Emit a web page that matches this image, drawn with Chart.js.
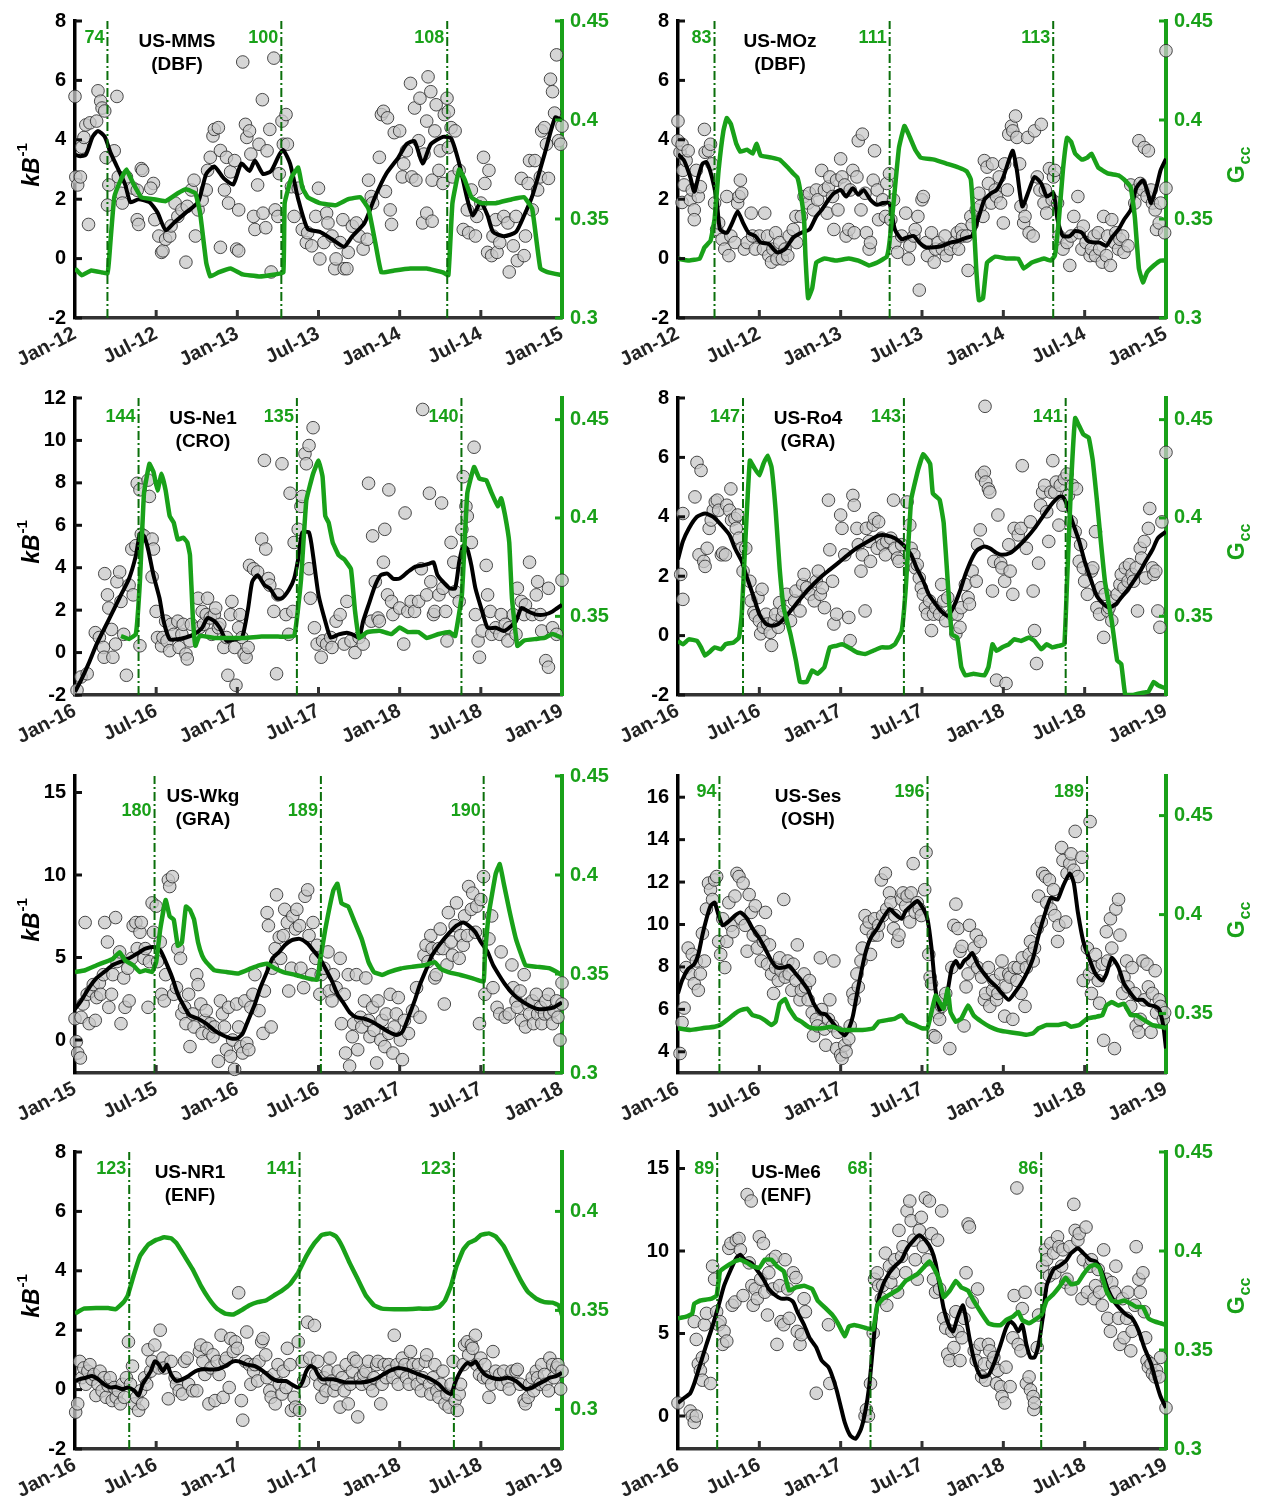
<!DOCTYPE html>
<html>
<head>
<meta charset="utf-8">
<script src="https://cdn.jsdelivr.net/npm/chart.js@4.4.1/dist/chart.umd.min.js"></script>
<style>
  html, body { margin: 0; padding: 0; background: #fff; }
  body { width: 1268px; height: 1512px; position: relative; overflow: hidden; }
  .panel { position: absolute; }
</style>
</head>
<body>
<script>
// Fonts & colours
const FONT = "'Liberation Sans', Arial, Helvetica, sans-serif";
const GREEN = "#19a119";
const VLINE = "#0b6f0b";

// Tick labels (x = months since first January)
const monthTicks = [0, 6, 12, 18, 24, 30, 36];
const ticks2012 = ["Jan-12", "Jul-12", "Jan-13", "Jul-13", "Jan-14", "Jul-14", "Jan-15"];
const ticks2015 = ["Jan-15", "Jul-15", "Jan-16", "Jul-16", "Jan-17", "Jul-17", "Jan-18"];
const ticks2016 = ["Jan-16", "Jul-16", "Jan-17", "Jul-17", "Jan-18", "Jul-18", "Jan-19"];

// ---------- US-MMS ----------
const mmsDoy = [74, 100, 108];
const mmsDots = [[0,5.46],[0.06,2.75],[0.2,2.48],[0.4,2.75],[0.5,3.75],[0.66,4.08],[0.8,4.5],[1,1.15],[1.1,4.57],[1.6,4.63],[1.7,5.65],[1.9,5.3],[2,5.07],[2.2,4.97],[2.3,3.4],[2.5,2.48],[2.4,1.8],[2.9,3.63],[3.1,5.46],[3.2,2.75],[3.4,2.2],[3.5,1.87],[3.8,2.75],[4.3,2.37],[4.6,2.3],[4.9,3.03],[5,2.97],[4.6,1.31],[4.7,1.15],[5.8,2.53],[5.6,2.37],[5.9,1.31],[6.2,0.76],[6.4,0.21],[6.5,0.26],[6.7,0.65],[7,0.76],[7.1,1.1],[7.4,1.87],[7.6,1.42],[7.9,1.64],[8.2,-0.12],[8.3,1.76],[8.6,2.31],[8.8,2.64],[8.9,0.76],[9.1,1.64],[9.4,1.97],[9.7,2.31],[9.8,2.97],[10,3.41],[10.2,4.13],[10.3,4.35],[10.6,4.41],[10.75,0.38],[10.75,3.64],[11.05,2.31],[11.2,3.41],[11.35,1.87],[11.5,2.92],[11.8,3.3],[11.95,0.32],[12.1,0.26],[12.1,1.64],[12.4,6.62],[12.6,4.52],[12.7,4.08],[12.9,4.3],[13,3.52],[13.2,1.42],[13.3,0.98],[13.5,2.48],[13.6,3.85],[13.85,5.35],[13.9,1.53],[14.1,1.04],[14.2,3.63],[14.4,4.35],[14.5,-0.45],[14.7,6.75],[14.8,1.64],[15,1.42],[15.1,2.86],[15.3,4.63],[15.4,3.85],[15.6,4.85],[15.7,3.85],[16,2.42],[16.2,1.42],[16.5,2.37],[16.8,0.98],[17.1,0.54],[17.2,0.87],[17.5,0.43],[17.8,1.42],[18,2.37],[18.1,-0.01],[18.4,0.54],[18.6,1.53],[18.7,1.2],[19,0.76],[19.2,-0.34],[19.3,-0.01],[19.6,0.54],[19.8,1.31],[19.9,-0.34],[20.1,-0.34],[20.2,0.21],[20.5,1.09],[20.8,1.2],[21,0.76],[21.3,0.32],[21.6,0.65],[21.7,2.64],[21.9,2.09],[22,1.87],[22.5,3.41],[22.65,4.85],[22.8,4.96],[23.1,4.74],[22.95,2.26],[23.3,1.64],[23.4,1.15],[23.6,4.24],[24,4.3],[24.2,2.75],[24.3,3.19],[24.5,3.63],[24.8,5.9],[24.9,2.75],[25.1,5.07],[25.2,2.64],[25.4,3.97],[25.5,5.4],[25.7,1.2],[25.8,3.52],[26,1.53],[26,4.63],[26.1,6.12],[26.3,5.62],[26.4,1.26],[26.4,2.64],[26.6,4.3],[26.7,5.18],[26.9,2.97],[27,3.63],[27.2,2.53],[27.3,4.85],[27.5,5.4],[27.6,4.96],[27.6,3.74],[27.8,4.41],[27.9,2.75],[28.1,4.3],[28.4,2.97],[28.7,0.98],[29,1.64],[29.1,0.87],[29.3,2.31],[29.6,0.76],[29.7,1.42],[30,1.87],[30.2,3.41],[30.3,2.53],[30.5,0.21],[30.6,2.97],[30.8,0.1],[30.9,0.76],[31.1,1.31],[31.2,0.21],[31.4,0.54],[31.7,1.42],[32,1.2],[32.1,-0.45],[32.4,0.43],[32.6,1.42],[32.7,-0.07],[33,2.7],[33.2,0.1],[33.3,0.76],[33.5,2.53],[33.6,3.3],[33.8,1.64],[34,3.3],[34.2,2.31],[34.4,2.75],[34.5,4.3],[34.7,4.41],[34.85,3.85],[35,2.7],[35.15,6.04],[35.3,5.62],[35.45,4.9],[35.6,6.86],[35.75,3.97],[35.9,3.85],[36,4.46]];
const mmsKb = [[0,3.5],[0.4,3.45],[0.8,3.5],[1.3,4.1],[1.7,4.3],[2.2,4.1],[2.6,3.6],[3.1,3.1],[3.7,2.5],[4.1,1.9],[4.7,2],[5.5,1.9],[6.1,1.55],[6.7,0.95],[7.3,1.2],[8.2,1.55],[9.1,1.9],[9.7,2.85],[10.3,3.1],[11,2.7],[11.7,2.5],[12.3,3.2],[12.9,2.95],[13.3,3.3],[13.9,2.85],[14.5,2.95],[15.1,3.5],[15.4,3.65],[15.9,3.2],[16.5,2],[17.2,1],[18.1,0.9],[19,0.65],[19.9,0.4],[20.5,0.75],[21.4,1.2],[22.2,2.1],[23,2.85],[23.9,3.4],[24.5,3.85],[25.1,3.95],[25.7,3.2],[26.3,3.85],[27.2,4.1],[27.8,4.05],[28.4,3.2],[29,2],[29.4,1.45],[30,1.9],[30.5,1.45],[30.9,0.9],[31.7,0.75],[32.6,0.9],[33.2,1.45],[33.8,2.1],[34.7,3.5],[35.5,4.75],[36,4.65]];
const mmsGcc = [[0,0.325],[0.5,0.3216],[1.2,0.324],[2,0.323],[2.4,0.3225],[2.5,0.328],[2.9,0.361],[3.4,0.37],[3.8,0.375],[4.3,0.368],[4.9,0.361],[5.8,0.36],[6.7,0.359],[7.6,0.363],[8.2,0.365],[8.9,0.363],[9.25,0.353],[9.7,0.328],[10,0.321],[10.6,0.323],[11.5,0.325],[12.4,0.322],[13.6,0.321],[14.8,0.322],[15.4,0.323],[15.5,0.358],[16,0.371],[16.5,0.376],[16.8,0.366],[17.2,0.361],[18.1,0.358],[19.3,0.357],[20.2,0.36],[21.1,0.361],[21.7,0.355],[22.2,0.338],[22.65,0.323],[23.6,0.324],[24.8,0.325],[26,0.325],[27.2,0.323],[27.6,0.3216],[27.9,0.358],[28.4,0.375],[28.8,0.37],[29.3,0.361],[30,0.358],[31.1,0.358],[32.3,0.36],[33.2,0.361],[33.8,0.355],[34.4,0.325],[35,0.323],[36,0.3216]];

// ---------- US-MOz ----------
const mozDoy = [83, 111, 113];
const mozDots = [[0,4.63],[0,3.97],[0.15,3.58],[0.3,3.85],[0.36,2.97],[0.45,2.48],[0.3,1.89],[0.6,3.3],[0.75,3.63],[0.9,1.98],[1.05,2.31],[1.2,1.64],[1.2,1.31],[1.35,2.97],[1.5,2.09],[1.65,2.42],[1.95,4.35],[2,3.58],[2.25,3.63],[2.4,3.85],[2.5,3.19],[2.7,1.87],[2.85,0.98],[3,1.2],[3.25,0.65],[3.45,0.32],[3.75,0.1],[3.6,2.09],[3.9,0.76],[4.2,0.54],[4.4,1.87],[4.5,2.09],[4.6,2.64],[4.7,2.2],[4.9,0.32],[5.1,0.54],[5.4,1.53],[5.5,0.76],[5.7,0.32],[6,0.76],[6.3,0.32],[6.4,1.53],[6.6,0.76],[6.7,0.1],[6.9,-0.12],[7,0.32],[7.2,0.87],[7.3,-0.01],[7.5,0.54],[7.7,-0.01],[7.9,0.32],[8.1,0.1],[8.2,0.76],[8.5,0.98],[8.7,1.42],[8.75,0.54],[9.1,1.42],[9.3,2.09],[9.6,1.87],[9.7,2.2],[10,1.64],[10.2,2.31],[10.3,1.98],[10.6,2.97],[10.8,2.31],[11,1.53],[11.1,2.42],[11.2,2.75],[11.4,2.09],[11.5,0.98],[11.7,2.64],[11.8,1.64],[12,3.36],[12.1,2.75],[12.3,2.48],[12.4,0.76],[12.6,0.98],[12.7,2.31],[12.9,2.97],[13,0.87],[13.2,2.75],[13.3,3.97],[13.5,1.64],[13.6,4.19],[13.8,2.2],[13.9,0.87],[14.1,0.32],[14.2,0.54],[14.4,2.64],[14.5,3.63],[14.7,2.31],[14.8,1.31],[15.1,1.98],[15.3,1.42],[15.4,2.53],[15.6,2.86],[15.7,1.31],[15.9,1.98],[16,0.54],[16.2,0.21],[16.5,0.76],[16.8,1.53],[17,-0.01],[17.1,0.43],[17.4,0.76],[17.5,0.98],[17.7,1.42],[17.8,-1.06],[18,1.98],[18.1,2.09],[18.3,0.54],[18.4,0.1],[18.7,0.87],[18.9,-0.12],[19,0.32],[19.2,0.54],[19.5,0.32],[19.7,0.76],[19.8,0.1],[20.1,0.32],[20.4,0.54],[20.6,0.87],[20.7,0.32],[20.9,0.98],[21,0.76],[21.3,0.76],[21.4,-0.4],[21.6,1.42],[21.7,1.15],[22,1.64],[22.2,2.2],[22.3,1.76],[22.5,1.42],[22.6,3.3],[22.8,3.08],[22.9,2.53],[23.1,1.87],[23.2,3.19],[23.4,2.31],[23.5,2.09],[23.7,2.75],[23.8,1.87],[24,1.2],[24.1,3.19],[24.3,2.31],[24.4,4.19],[24.6,4.46],[24.7,4.3],[24.9,4.8],[25,4.08],[25.2,3.19],[25.3,1.76],[25.5,1.2],[25.6,1.42],[25.8,4.08],[25.9,0.87],[26.2,0.76],[26.3,4.3],[26.5,2.75],[26.7,2.31],[26.8,4.52],[27,1.87],[27.1,2.31],[27.2,1.53],[27.4,3.03],[27.6,1.98],[27.7,2.75],[27.8,2.97],[28,1.87],[28.1,0.76],[28.4,0.32],[28.7,0.54],[28.9,-0.23],[29,0.76],[29.2,1.42],[29.5,2.09],[29.6,0.87],[29.8,0.32],[29.9,1.09],[30.1,0.54],[30.4,0.1],[30.5,0.32],[30.7,0.76],[30.8,0.1],[31,0.87],[31.1,0.32],[31.3,-0.12],[31.4,1.42],[31.6,0.1],[31.7,0.76],[31.9,-0.23],[32,1.31],[32.2,0.54],[32.3,0.87],[32.5,0.32],[32.6,0.65],[32.8,0.76],[32.9,0.21],[33.2,0.43],[33.4,2.48],[33.7,1.87],[33.8,2.31],[34,3.97],[34.1,2.53],[34.3,2.31],[34.4,3.74],[34.6,2.09],[34.7,3.63],[34.9,2.31],[35,1.87],[35.2,1.64],[35.3,0.98],[35.5,1.2],[35.6,1.87],[35.9,0.87],[36,7],[36,2.37]];
const mozKb = [[0,3.52],[0.45,3.3],[0.9,2.75],[1.2,2.25],[1.5,2.75],[1.8,3.19],[2.1,3.25],[2.5,2.75],[2.85,1.98],[3.1,0.98],[3.6,0.87],[4,1.2],[4.4,1.59],[4.8,1.2],[5.2,0.87],[5.7,0.76],[6.1,0.54],[6.7,0.49],[7.3,0.21],[7.9,0.32],[8.5,0.71],[9.1,0.87],[9.7,0.98],[10.2,1.42],[10.6,1.64],[11.1,1.98],[11.5,2.2],[12,2.31],[12.4,2.09],[12.9,2.37],[13.3,2.15],[13.7,2.31],[14.2,1.98],[14.7,1.81],[15.1,1.87],[15.6,1.87],[16,0.98],[16.5,0.65],[16.9,0.71],[17.4,0.76],[17.8,0.54],[18.3,0.38],[18.9,0.38],[19.5,0.43],[20.1,0.54],[20.7,0.6],[21.3,0.71],[21.7,0.76],[22.2,1.42],[22.6,1.98],[23.1,2.2],[23.5,2.31],[24,2.75],[24.4,3.3],[24.7,3.63],[25,2.97],[25.4,1.76],[25.9,2.31],[26.3,2.75],[26.8,2.53],[27.2,2.09],[27.7,2.2],[28,1.31],[28.4,0.76],[28.9,0.76],[29.3,0.93],[29.8,0.87],[30.2,0.6],[30.7,0.54],[31.1,0.54],[31.6,0.43],[32,0.71],[32.5,0.98],[32.9,1.31],[33.4,1.64],[33.8,2.37],[34.3,2.64],[34.6,2.31],[34.9,1.87],[35.3,2.42],[35.6,2.97],[36,3.36]];
const mozGcc = [[0,0.33],[0.8,0.329],[1.6,0.33],[1.95,0.3356],[2.4,0.339],[2.7,0.35],[3,0.375],[3.35,0.3945],[3.6,0.401],[3.9,0.398],[4.3,0.388],[4.6,0.384],[5.1,0.385],[5.5,0.383],[5.8,0.388],[6.1,0.382],[6.9,0.381],[7.5,0.38],[8.1,0.376],[8.5,0.373],[8.8,0.371],[9,0.365],[9.3,0.35],[9.4,0.3315],[9.6,0.31],[9.9,0.315],[10.2,0.328],[10.8,0.33],[11.7,0.329],[12.6,0.33],[13.3,0.329],[14.1,0.3265],[14.7,0.328],[15.4,0.331],[15.6,0.338],[15.9,0.358],[16.3,0.386],[16.7,0.397],[17,0.393],[17.5,0.385],[17.9,0.381],[18.9,0.38],[19.8,0.378],[20.7,0.376],[21.3,0.374],[21.6,0.37],[21.8,0.351],[22,0.325],[22.2,0.309],[22.5,0.31],[22.8,0.328],[23.4,0.331],[24.3,0.33],[25.1,0.33],[25.5,0.325],[26.1,0.328],[27,0.33],[27.5,0.329],[27.8,0.3315],[28.1,0.35],[28.4,0.375],[28.7,0.391],[29,0.389],[29.3,0.383],[29.8,0.38],[30.2,0.381],[30.5,0.383],[31,0.376],[31.7,0.373],[32.5,0.372],[32.9,0.37],[33.4,0.366],[33.7,0.351],[34,0.325],[34.3,0.318],[34.6,0.323],[35.1,0.3265],[35.6,0.329],[36,0.329]];

// ---------- US-Ne1 ----------
const ne1Doy = [144, 135, 140];
const ne1Dots = [[0.15,-1.77],[0.45,-1.15],[0.9,-1],[1.5,0.94],[1.8,0.71],[2.1,0.24],[2.15,-0.22],[2.2,3.72],[2.4,2.72],[2.5,2.1],[2.7,1.09],[2.8,-0.22],[3,0.4],[3.1,3.34],[3.3,3.8],[3.4,2.41],[3.6,0.86],[3.8,-1.07],[4,3.18],[4.2,4.88],[4.3,2.72],[4.5,5.04],[4.6,7.98],[4.8,7.67],[4.9,5.58],[4.8,0.32],[5.1,5.5],[5.4,8.13],[5.5,7.36],[5.7,5.35],[5.8,4.88],[5.7,3.57],[6,1.94],[6.1,0.71],[6.4,0.32],[6.5,0.71],[6.7,1.48],[6.8,0.55],[7,0.09],[7.1,1.33],[7.3,0.86],[7.6,1.48],[7.7,0.24],[7.9,0.86],[8,1.33],[8.2,-0.07],[8.3,-0.3],[8.5,0.55],[8.6,1.33],[9.1,2.56],[9.2,1.17],[9.4,1.94],[9.5,1.33],[9.7,1.79],[9.8,2.56],[10,1.63],[10.1,0.86],[10.3,1.79],[10.4,2.1],[10.6,1.17],[10.7,1.33],[11,0.24],[11.2,0.71],[11.3,-1.07],[11.5,1.79],[11.6,2.41],[11.8,0.24],[11.9,-1.54],[12.1,1.17],[12.2,1.79],[12.35,0.71],[12.5,-0.07],[12.65,-0.22],[12.8,0.24],[12.9,4.11],[13.2,3.95],[13.5,3.8],[13.8,5.35],[14.1,4.88],[14,9.06],[14.3,3.49],[14.4,3.18],[14.7,1.94],[14.9,-1],[15,2.72],[15.3,8.9],[15.6,1.79],[15.8,0.86],[15.9,7.51],[16.1,1.94],[16.2,5.19],[16.5,5.81],[16.7,6.89],[16.8,7.36],[17,9.37],[17.1,8.9],[17.3,9.76],[17.6,10.6],[17.3,3.95],[17.4,2.56],[17.7,1.17],[17.9,0.4],[18.2,-0.22],[18.3,0.55],[18.6,0.4],[18.9,0.71],[19,0.24],[19.3,1.48],[19.6,1.79],[19.9,0.4],[20.1,2.41],[20.4,0.55],[20.7,0],[21,0.71],[21.3,0.4],[21.7,7.98],[21.9,1.48],[22,5.5],[22.2,3.34],[22.4,1.63],[22.5,1.48],[22.8,4.26],[22.9,5.81],[23.1,2.72],[23.2,7.67],[23.4,2.41],[23.5,1.79],[24,2.1],[24.3,0.4],[24.4,6.58],[24.6,1.94],[24.85,2.41],[25.1,1.94],[25.4,2.41],[25.6,3.95],[25.7,11.46],[26,2.72],[26.2,7.51],[26.3,3.34],[26.5,1.79],[26.6,1.94],[26.9,2.72],[27.1,7.05],[27.2,3.03],[27.4,1.94],[27.5,0.55],[27.8,5.19],[28,4.26],[28.1,2.87],[28.4,2.41],[28.6,5.81],[28.7,8.29],[28.9,6.89],[29,6.43],[29.3,5.19],[29.5,9.68],[29.6,1.79],[29.8,0.55],[29.9,-0.22],[30.1,1.02],[30.4,4.11],[30.5,2.72],[30.7,1.94],[30.8,0.86],[31.1,1.17],[31.4,0.86],[31.5,1.79],[31.8,1.33],[32,0.55],[32.1,1.17],[32.4,1.79],[32.6,0.86],[32.7,3.03],[33,2.41],[33.2,1.79],[33.3,2.25],[33.6,4.26],[33.8,1.79],[34.1,2.72],[34.2,3.34],[34.4,1.79],[34.5,1.02],[34.8,-0.38],[35,-0.69],[35,3.03],[35.3,1.17],[35.6,0.86],[36,3.41]];
const ne1Kb = [[0,-1.85],[0.45,-1.3],[1,-0.53],[1.6,0.4],[2.2,1.17],[2.8,1.94],[3.4,2.72],[4,3.49],[4.5,4.57],[4.8,5.58],[5.1,5.5],[5.4,4.88],[5.8,3.65],[6.25,2.56],[6.55,1.48],[7,0.63],[7.6,0.63],[8.2,0.71],[8.8,0.86],[9.4,1.17],[9.8,1.63],[10.3,1.48],[10.7,1.17],[11.2,0.55],[11.8,0.63],[12.35,0.71],[12.8,2.1],[13.1,3.34],[13.5,3.65],[14,3.18],[14.4,3.03],[14.9,2.56],[15.3,2.56],[15.8,2.95],[16.2,3.49],[16.5,4.42],[16.8,5.66],[17.3,5.66],[17.6,4.57],[18,2.72],[18.5,1.48],[18.9,0.71],[19.5,0.86],[20.1,0.94],[20.5,0.86],[21,0.71],[21.3,1.48],[21.7,2.25],[22.2,3.18],[22.6,3.65],[23.1,3.72],[23.5,3.49],[24,3.49],[24.6,3.8],[25.1,4.03],[25.7,4.11],[26.2,4.19],[26.5,4.26],[26.8,3.65],[27.2,3.34],[27.7,3.03],[28.1,3.03],[28.4,4.26],[28.7,5.04],[29,4.88],[29.3,4.11],[29.6,3.03],[30.1,1.94],[30.5,1.17],[31.1,1.17],[31.7,1.02],[32.1,1.17],[32.6,1.48],[33,2.1],[33.5,1.94],[34.1,1.79],[34.7,1.79],[35.3,1.94],[36,2.25]];
const ne1Gcc = [[3.4,0.34],[4,0.3385],[4.5,0.341],[4.8,0.368],[5.1,0.4126],[5.5,0.4275],[5.8,0.4234],[6.1,0.414],[6.4,0.4225],[6.7,0.414],[7,0.401],[7.3,0.3976],[7.6,0.389],[8,0.39],[8.3,0.3876],[8.5,0.381],[8.7,0.351],[8.9,0.335],[9.2,0.34],[10.3,0.339],[11.5,0.339],[12.6,0.339],[13.8,0.3397],[15,0.3397],[16.2,0.34],[16.7,0.368],[17.1,0.409],[17.6,0.4225],[18,0.4292],[18.3,0.421],[18.5,0.401],[18.75,0.3976],[19.05,0.3876],[19.5,0.381],[19.9,0.379],[20.4,0.374],[20.7,0.3527],[21,0.339],[21.6,0.342],[22.5,0.3427],[23.4,0.341],[24,0.3443],[24.6,0.342],[25.4,0.342],[26,0.339],[26.9,0.341],[27.7,0.342],[28.1,0.34],[28.6,0.361],[29,0.4126],[29.5,0.4259],[29.9,0.42],[30.4,0.4192],[30.8,0.4126],[31.25,0.406],[31.5,0.41],[31.8,0.401],[32.1,0.3876],[32.3,0.3593],[32.7,0.335],[33.2,0.3377],[34.1,0.3385],[34.7,0.339],[35.3,0.341],[36,0.339]];

// ---------- US-Ro4 ----------
const ro4Doy = [147, 143, 141];
const ro4Dots = [[0.2,2.06],[0.36,1.22],[0.36,4.11],[1.25,4.67],[1.4,5.83],[1.7,5.56],[1.55,2.72],[1.9,2.5],[2,2.33],[2.15,2.94],[2.3,3.61],[2.45,3.89],[2.6,4.22],[2.75,4.5],[2.9,4.56],[3,4.22],[3.2,2.72],[3.3,2.78],[3.5,2.72],[3.6,4.39],[3.8,4.22],[3.9,4.94],[3.95,3.89],[4.2,3.94],[4.3,3.61],[4.4,4.06],[4.5,3.28],[4.7,2.94],[4.8,2.17],[5,2.94],[5.3,1.83],[5.4,1.17],[5.6,0.78],[5.7,0.67],[5.9,1.28],[6,0.5],[6.1,0.06],[6.2,1.56],[6.3,0.28],[6.5,0.72],[6.6,0.39],[6.8,0.11],[6.9,-0.33],[7.1,0.5],[7.2,0.72],[7.4,0.28],[7.5,1.11],[7.7,0.61],[7.8,0.83],[8,1.39],[8.3,0.5],[8.6,1.17],[8.7,1.5],[9,0.83],[9.2,1.72],[9.3,2.06],[9.5,1.61],[9.75,1.39],[10.05,1.17],[10.2,1.83],[10.35,2.17],[10.5,1.39],[10.65,1.61],[10.8,0.94],[11.1,4.56],[11.2,2.89],[11.4,1.83],[11.5,0.39],[11.7,0.72],[12,4.06],[12.1,3.61],[12.3,2.72],[12.6,0.61],[12.7,-0.17],[12.9,4.72],[13,4.39],[13.2,3.61],[13.3,3.06],[13.5,2.17],[13.6,2.72],[13.8,0.83],[13.9,3.61],[14.1,3.17],[14.2,2.5],[14.4,3.72],[14.5,3.94],[14.7,2.94],[14.8,3.83],[15,3.28],[15.1,3.06],[15.3,2.72],[15.4,3.17],[15.7,3.28],[15.9,4.56],[16,2.94],[16.2,2.61],[16.3,2.5],[16.5,3.06],[16.9,4.5],[17.1,3.72],[17.2,2.94],[17.4,2.72],[17.5,2.28],[17.65,2.39],[17.8,1.94],[17.95,1.61],[18.1,1.39],[18.25,0.94],[18.4,0.72],[18.55,1.17],[18.7,0.17],[18.85,0.72],[19,0.94],[19.3,0.72],[19.45,1.72],[19.6,1.17],[19.75,0.5],[19.9,1.28],[20.2,0.72],[20.5,0.06],[20.6,0.72],[20.8,0.28],[20.9,0.94],[21.2,1.72],[21.4,1.28],[21.5,1.06],[21.7,2.17],[22,1.83],[22.1,3.06],[22.3,3.56],[22.4,5.39],[22.6,5.5],[22.65,7.72],[22.7,5.17],[22.9,4.94],[23,4.83],[23.2,1.5],[23.3,2.5],[23.5,-1.5],[23.6,4.06],[23.8,2.44],[23.9,2.28],[24.1,1.83],[24.2,-1.61],[24.4,3.06],[24.5,2.17],[24.7,1.39],[24.8,3.61],[25.1,3.39],[25.3,3.61],[25.4,5.72],[25.7,2.94],[26,3.83],[26.2,1.5],[26.3,0.17],[26.45,-0.94],[26.6,2.44],[26.75,4.39],[26.9,4.83],[27.05,5.06],[27.2,4.17],[27.35,3.17],[27.5,4.83],[27.65,5.89],[27.8,4.83],[27.9,5.17],[28.1,3.72],[28.2,5.06],[28.4,4.39],[28.5,5.28],[28.7,5.44],[28.8,4.72],[29,3.83],[29.1,5.06],[29.3,3.5],[29.4,4.94],[29.6,2.5],[29.7,3.06],[29.9,2.28],[30,1.83],[30.2,1.39],[30.5,2.17],[30.6,2.28],[30.8,3.5],[30.9,0.94],[31.1,0.72],[31.2,1.61],[31.4,-0.06],[31.5,1.39],[31.7,0.83],[31.8,0.94],[32,0.5],[32.1,1.17],[32.4,1.39],[32.6,1.72],[32.7,2.06],[32.9,1.61],[33,2.28],[33.2,1.83],[33.3,2.39],[33.5,2.06],[33.6,1.83],[33.8,2.28],[33.9,0.83],[34.1,2.94],[34.2,2.61],[34.4,3.17],[34.5,1.94],[34.7,3.61],[34.8,4.28],[35,2.28],[35.1,2.06],[35.25,2.17],[35.4,0.83],[35.55,0.28],[35.7,3.83],[36,6.17]];
const ro4Kb = [[0,2.56],[0.36,3.17],[0.8,3.61],[1.4,4],[2,4.11],[2.6,4],[3.2,3.72],[3.8,3.39],[4.2,2.94],[4.7,2.5],[5.1,1.94],[5.6,1.28],[6,0.72],[6.5,0.39],[6.9,0.33],[7.4,0.39],[7.8,0.56],[8.3,0.83],[8.9,1.17],[9.5,1.5],[10.1,1.78],[10.6,2],[11.2,2.22],[11.8,2.44],[12.4,2.67],[13,2.89],[13.6,3.06],[14.2,3.22],[14.8,3.37],[15.4,3.37],[16,3.28],[16.6,3.06],[17.2,2.72],[17.6,2.28],[18.1,1.83],[18.5,1.39],[19,1.06],[19.4,0.83],[19.9,0.67],[20.3,0.94],[20.8,1.5],[21.2,2.06],[21.7,2.61],[22.1,2.89],[22.6,3],[23,2.94],[23.5,2.78],[23.9,2.72],[24.5,2.78],[25.1,3],[25.7,3.28],[26.3,3.61],[26.9,4],[27.5,4.39],[28.1,4.67],[28.4,4.67],[28.7,4.39],[29.1,3.83],[29.6,3.17],[30,2.5],[30.5,1.83],[30.9,1.33],[31.4,1.06],[31.8,0.94],[32.3,1.06],[32.7,1.28],[33.2,1.56],[33.6,1.83],[34.1,2.17],[34.5,2.5],[35,2.89],[35.4,3.28],[36,3.5]];
const ro4Gcc = [[0,0.3375],[0.36,0.3358],[0.8,0.3383],[1.4,0.3375],[1.7,0.3342],[2,0.33],[2.3,0.3317],[2.7,0.3342],[3.2,0.3333],[3.5,0.3358],[4.1,0.3367],[4.5,0.3392],[4.7,0.3508],[5,0.3925],[5.3,0.4292],[5.6,0.4258],[6,0.4217],[6.3,0.4275],[6.6,0.4317],[6.9,0.4258],[7.2,0.4042],[7.5,0.3742],[7.8,0.3542],[8.3,0.3408],[8.7,0.3275],[9,0.3167],[9.5,0.3167],[9.9,0.3225],[10.3,0.3208],[10.8,0.3242],[11.2,0.3342],[11.7,0.335],[12.1,0.3358],[12.6,0.3342],[13.2,0.3317],[13.8,0.3308],[14.4,0.3325],[15,0.3342],[15.6,0.3342],[16,0.3358],[16.5,0.3425],[16.8,0.3642],[17.2,0.4092],[17.7,0.4242],[18.1,0.4325],[18.6,0.4275],[18.8,0.4125],[19.3,0.4092],[19.6,0.3975],[19.9,0.3675],[20.2,0.3408],[20.6,0.3392],[20.9,0.3242],[21.2,0.32],[21.8,0.3208],[22.6,0.32],[22.9,0.3242],[23.2,0.3358],[23.5,0.3325],[23.9,0.3342],[24.4,0.3358],[24.8,0.3383],[25.3,0.3375],[25.9,0.3392],[26.3,0.3375],[26.8,0.3333],[27.2,0.3358],[27.6,0.3342],[28.1,0.335],[28.5,0.3358],[28.7,0.3675],[29,0.4175],[29.3,0.4508],[29.6,0.4467],[29.9,0.4425],[30.3,0.4408],[30.6,0.4292],[30.9,0.4092],[31.2,0.3875],[31.5,0.3675],[32,0.3475],[32.4,0.3275],[32.7,0.3258],[33,0.31],[33.6,0.31],[34.2,0.311],[34.7,0.3117],[35.1,0.3167],[35.4,0.315],[36,0.3133]];

// ---------- US-Wkg ----------
const wkgDoy = [180, 189, 190];
const wkgDots = [[0,1.29],[0.1,-0.1],[0.2,-0.79],[0.4,-1.09],[0.45,1.38],[0.6,2.18],[0.75,7.12],[0.9,2.77],[1.05,0.99],[1.2,2.97],[1.35,3.36],[1.5,1.19],[1.6,2.57],[1.8,3.46],[1.9,2.77],[2.1,3.96],[2.2,7.12],[2.4,5.94],[2.5,1.98],[2.7,2.77],[2.8,3.96],[3,7.42],[3.1,4.75],[3.3,5.34],[3.4,0.99],[3.6,3.76],[3.7,1.98],[3.9,4.35],[4,2.37],[4.2,4.95],[4.3,6.93],[4.5,7.12],[4.6,5.54],[4.8,6.53],[4.9,7.12],[5.1,4.95],[5.2,5.54],[5.4,1.98],[5.5,4.75],[5.7,8.31],[5.8,6.53],[6,8.11],[6.1,4.75],[6.3,5.94],[6.4,2.77],[6.6,2.37],[6.7,3.96],[6.9,9.7],[7,9.3],[7.2,9.9],[7.3,2.77],[7.5,3.17],[7.6,5.54],[7.8,4.95],[7.9,1.58],[8.1,1.98],[8.2,0.99],[8.4,2.77],[8.5,-0.4],[8.7,1.58],[8.8,0.79],[9,3.96],[9.1,3.36],[9.3,2.18],[9.4,0.4],[9.6,1.19],[9.7,1.78],[9.9,0.4],[10,0.99],[10.2,0.2],[10.3,0.79],[10.6,-1.29],[10.75,2.37],[10.9,1.58],[11.05,0.79],[11.2,-0.59],[11.35,1.98],[11.5,-0.99],[11.65,0],[11.8,-1.78],[11.95,2.18],[12.1,0.79],[12.25,-0.4],[12.4,-0.79],[12.55,2.37],[12.7,-0.2],[12.85,-0.59],[13,1.98],[13.15,2.77],[13.3,3.96],[13.6,1.78],[13.9,0.4],[14,2.97],[14.2,7.72],[14.3,6.93],[14.5,0.79],[14.6,4.35],[14.8,5.54],[14.9,8.8],[15.1,6.23],[15.2,4.95],[15.4,6.33],[15.5,7.92],[15.7,7.12],[15.8,2.97],[16,4.35],[16.1,7.52],[16.3,6.73],[16.4,7.92],[16.6,6.93],[16.7,4.35],[16.9,3.17],[17,8.71],[17.2,9.1],[17.3,6.33],[17.5,3.96],[17.6,7.12],[17.8,4.95],[17.9,5.74],[18.1,2.77],[18.2,3.96],[18.4,4.35],[18.7,5.34],[18.8,2.97],[19,2.37],[19.1,3.96],[19.3,3.17],[19.6,4.95],[19.7,0.99],[19.9,2.77],[20,-0.79],[20.2,3.96],[20.3,-1.58],[20.5,0.2],[20.6,0.99],[20.8,3.96],[20.9,-0.59],[21.1,1.38],[21.2,0.79],[21.4,2.37],[21.5,3.76],[21.7,1.19],[21.8,0.2],[22,1.98],[22.1,0.59],[22.3,-1.39],[22.4,2.37],[22.6,0],[22.7,1.19],[22.9,-0.4],[23,1.58],[23.2,0.4],[23.3,2.77],[23.5,-0.79],[23.6,0.79],[23.75,1.58],[23.9,2.57],[24.05,0],[24.2,-1.19],[24.35,1.19],[24.65,0.4],[24.95,1.78],[25.25,3.17],[25.5,1.38],[25.8,5.14],[25.95,5.74],[26.1,4.75],[26.3,6.33],[26.4,5.54],[26.6,3.76],[26.7,3.96],[26.9,5.54],[27,6.73],[27.2,5.54],[27.3,2.18],[27.5,4.55],[27.6,7.72],[27.8,5.94],[27.9,5.14],[28.1,6.93],[28.2,8.31],[28.4,4.95],[28.5,6.33],[28.7,5.74],[28.8,7.52],[29,6.33],[29.1,9.3],[29.3,7.92],[29.4,8.9],[29.6,6.53],[29.7,8.11],[29.9,0.99],[30,8.51],[30.2,9.9],[30.3,2.77],[30.6,6.13],[30.8,7.52],[30.9,3.17],[31.2,1.98],[31.4,1.58],[31.5,5.34],[31.8,1.38],[32.1,1.58],[32.3,4.55],[32.4,3.17],[32.6,2.37],[32.7,1.98],[32.9,2.97],[33,1.19],[33.2,3.96],[33.3,0.79],[33.5,2.18],[33.6,1.58],[33.8,2.37],[33.9,0.99],[34.1,2.77],[34.2,1.58],[34.4,1.98],[34.5,0.99],[34.7,1.58],[34.8,2.37],[35,2.77],[35.1,1.58],[35.3,0.99],[35.4,1.78],[35.6,2.37],[35.7,1.38],[35.85,0],[36,2.18],[36,3.46]];
const wkgKb = [[0,1.88],[0.45,2.37],[1.05,3.17],[1.6,3.76],[2.2,4.15],[2.8,4.55],[3.4,4.75],[4,4.95],[4.6,5.24],[5.2,5.54],[5.8,5.64],[6.3,5.44],[6.7,4.75],[7.2,3.76],[7.6,2.77],[8.1,1.98],[8.5,1.48],[9.1,1.29],[9.7,0.99],[10.3,0.59],[10.9,0.3],[11.5,0.1],[12,0.1],[12.4,0.4],[12.8,1.19],[13.3,2.18],[13.7,3.17],[14.2,4.15],[14.6,4.95],[15.1,5.34],[15.5,5.74],[16,6.04],[16.6,6.13],[17.2,5.84],[17.6,5.44],[18.1,4.95],[18.5,4.35],[19,3.56],[19.4,2.77],[19.9,2.18],[20.3,1.68],[20.8,1.38],[21.4,1.29],[22,1.09],[22.6,0.79],[23.2,0.49],[23.75,0.3],[24.2,0.49],[24.65,1.38],[25.1,2.37],[25.5,3.36],[26,4.35],[26.4,5.14],[27,5.84],[27.6,6.43],[28.2,6.93],[28.7,7.12],[29.1,6.93],[29.6,6.53],[30,5.94],[30.5,5.34],[30.9,4.55],[31.4,3.86],[31.8,3.36],[32.4,2.77],[33,2.37],[33.6,2.08],[34.2,1.88],[34.8,1.88],[35.4,1.98],[36,2.28]];
const wkgGcc = [[0,0.351],[0.75,0.3519],[1.6,0.3544],[2.2,0.356],[2.8,0.3577],[3.3,0.361],[3.7,0.3569],[4.3,0.3544],[4.8,0.351],[5.2,0.3519],[5.7,0.351],[6,0.356],[6.3,0.3725],[6.7,0.3874],[7,0.3791],[7.3,0.3775],[7.6,0.3643],[7.9,0.3659],[8.2,0.3841],[8.5,0.3824],[8.8,0.3775],[9.1,0.3659],[9.4,0.3593],[9.7,0.356],[10.3,0.3519],[11.2,0.351],[12.1,0.3503],[13,0.3528],[13.6,0.3544],[14.2,0.3552],[14.8,0.3528],[15.4,0.351],[16.3,0.3495],[17.2,0.3478],[17.9,0.347],[18.1,0.356],[18.5,0.3725],[19.1,0.3923],[19.4,0.3956],[19.7,0.3857],[20.2,0.3841],[20.6,0.3775],[21.2,0.3676],[21.7,0.356],[22.1,0.351],[22.7,0.3495],[23.2,0.351],[24.1,0.3528],[24.9,0.3536],[25.8,0.3544],[26.6,0.356],[27,0.3528],[27.6,0.351],[28.5,0.3495],[29.4,0.3478],[30.2,0.3462],[30.3,0.3593],[30.6,0.3808],[31.1,0.4006],[31.4,0.4055],[31.7,0.3956],[32.1,0.3824],[32.6,0.3676],[33.1,0.3577],[33.3,0.3544],[34.2,0.3536],[35.1,0.3528],[36,0.3495]];

// ---------- US-Ses ----------
const sesDoy = [94, 196, 189];
const sesDots = [[0.15,3.92],[0.3,5.38],[0.45,6.06],[0.6,7.97],[0.75,8.89],[0.9,7.67],[1.05,8.59],[1.2,7.21],[1.35,8.28],[1.5,6.9],[1.65,7.67],[1.8,9.58],[1.95,8.28],[2.1,10.73],[2.25,11.95],[2.4,11.64],[2.55,11.18],[2.7,12.1],[2.85,12.26],[3,9.2],[3.15,8.59],[3.3,10.27],[3.45,7.97],[3.6,9.2],[3.75,11.03],[3.9,9.96],[4.05,9.66],[4.2,11.34],[4.35,12.41],[4.5,12.26],[4.65,10.27],[4.8,11.95],[4.95,9.96],[5.1,8.74],[5.25,11.41],[5.4,10.57],[5.55,9.5],[5.7,10.88],[5.85,8.89],[6,9.66],[6.15,8.28],[6.3,9.2],[6.45,10.57],[6.6,8.13],[6.75,9.04],[6.9,7.67],[7.05,6.75],[7.2,7.97],[7.4,7.36],[7.5,8.43],[7.6,7.82],[7.8,11.18],[7.9,7.52],[8.1,8.28],[8.2,7.67],[8.4,6.9],[8.5,8.13],[8.7,7.36],[8.8,9.04],[9,6.45],[9.1,6.9],[9.3,7.67],[9.4,7.06],[9.6,6.45],[9.7,7.36],[9.9,5.84],[10,4.76],[10.2,5.53],[10.3,5.22],[10.5,8.43],[10.6,5.99],[10.8,5.07],[10.9,4.31],[11.1,5.53],[11.2,6.45],[11.4,5.22],[11.5,8.28],[11.7,4.15],[11.8,4.92],[12,3.85],[12.1,3.69],[12.3,4.31],[12.4,4],[12.6,4.61],[12.7,5.22],[12.9,6.75],[13,6.45],[13.2,7.67],[13.3,7.06],[13.5,8.28],[13.6,8.89],[13.8,10.42],[13.9,9.81],[14.1,10.12],[14.2,8.59],[14.4,9.5],[14.5,10.27],[14.7,9.5],[14.8,9.96],[15,12.1],[15.1,10.42],[15.3,12.41],[15.4,10.73],[15.6,11.49],[15.7,11.03],[15.9,9.81],[16,10.42],[16.2,9.2],[16.3,9.5],[16.5,11.18],[16.6,11.49],[16.8,10.88],[16.9,11.34],[17.1,10.12],[17.2,11.49],[17.35,12.87],[17.5,10.57],[17.65,11.03],[17.8,10.73],[17.95,10.42],[18.2,11.64],[18.3,13.4],[18.5,8.59],[18.6,7.52],[18.7,7.21],[18.85,4.76],[19,4.69],[19.15,5.84],[19.3,5.53],[19.45,6.14],[19.6,6.45],[19.75,6.75],[20.05,4.15],[20.2,7.97],[20.35,9.96],[20.5,10.96],[20.65,9.81],[20.8,8.74],[20.95,8.97],[21.1,5.22],[21.25,7.06],[21.4,7.67],[21.5,9.96],[21.7,8.28],[21.85,8.89],[22,9.5],[22.1,7.97],[22.3,9.2],[22.4,7.52],[22.6,6.45],[22.7,6.75],[22.9,7.97],[23,6.14],[23.2,6.9],[23.3,7.36],[23.5,6.45],[23.6,6.75],[23.8,7.67],[23.9,8.28],[24.1,5.68],[24.2,7.06],[24.4,7.67],[24.5,7.52],[24.7,5.53],[24.8,7.97],[25,7.36],[25.1,7.97],[25.3,6.75],[25.4,8.43],[25.6,6.14],[25.7,7.97],[25.9,8.59],[26,9.2],[26.2,8.28],[26.3,8.89],[26.5,9.81],[26.6,11.34],[26.8,10.12],[26.9,12.41],[27.1,12.26],[27.2,11.03],[27.4,12.1],[27.5,10.73],[27.7,11.64],[27.8,10.42],[28,9.2],[28.1,9.96],[28.3,13.63],[28.4,13.02],[28.6,10.12],[28.7,12.41],[28.9,12.87],[29,13.33],[29.2,12.56],[29.3,14.39],[29.5,12.26],[29.8,13.17],[30.4,14.85],[29.9,7.36],[30.2,8.89],[30.35,7.67],[30.5,6.75],[30.7,7.97],[30.8,8.59],[31,7.36],[31.1,6.29],[31.3,8.13],[31.4,4.54],[31.6,9.66],[31.7,8.28],[31.9,10.27],[32,8.89],[32.2,4.15],[32.3,10.73],[32.5,11.18],[32.6,9.5],[32.8,6.75],[32.9,7.52],[33.1,8.28],[33.2,7.06],[33.4,6.14],[33.5,7.97],[33.7,6.75],[33.8,5.22],[34,4.92],[34.1,5.53],[34.3,8.28],[34.4,6.45],[34.6,8.13],[34.7,7.06],[34.9,4.92],[35,6.75],[35.2,7.82],[35.3,5.84],[35.5,6.45],[35.6,6.14],[35.8,5.53],[35.9,5.84]];
const sesKb = [[0,6.75],[0.3,7.36],[0.75,7.9],[1.2,8.13],[1.5,8.59],[1.8,9.5],[2.1,10.27],[2.4,10.88],[2.7,11.03],[3,10.42],[3.3,9.96],[3.7,10.12],[4.2,10.42],[4.6,10.57],[5.1,10.27],[5.5,9.81],[6,9.35],[6.4,8.89],[6.9,8.28],[7.3,7.97],[7.8,7.97],[8.2,8.05],[8.7,7.67],[9.1,7.36],[9.6,6.9],[10,6.29],[10.5,5.83],[10.9,5.76],[11.4,5.38],[11.8,5.07],[12.3,4.77],[12.6,5.07],[12.9,5.68],[13.3,7.06],[13.8,8.59],[14.2,9.35],[14.7,9.81],[15.1,10.27],[15.6,10.73],[16,10.5],[16.5,10.27],[16.8,10.65],[17.2,10.88],[17.65,11.11],[18.1,10.73],[18.4,10.27],[18.7,8.89],[19,6.9],[19.3,5.99],[19.6,6.14],[19.9,6.9],[20.2,7.97],[20.5,8.28],[20.8,7.97],[21.1,8.28],[21.4,8.43],[21.7,8.66],[22.1,8.13],[22.6,7.67],[23,7.36],[23.5,7.06],[23.9,6.75],[24.4,6.45],[24.8,6.75],[25.3,7.21],[25.7,7.67],[26.2,8.43],[26.6,9.5],[27.1,10.57],[27.5,11.26],[28,11.18],[28.4,11.8],[28.9,12.41],[29.2,11.95],[29.5,10.57],[29.9,9.2],[30.4,8.28],[30.8,7.67],[31.3,7.36],[31.6,7.67],[32,8.43],[32.5,7.97],[32.9,7.21],[33.4,6.75],[33.8,6.45],[34.3,6.45],[34.7,6.22],[35.2,6.14],[35.5,5.99],[35.8,5.22],[36,4.15]];
const sesGcc = [[0,0.3426],[0.9,0.3417],[1.8,0.3426],[2.7,0.3434],[3.1,0.3442],[3.6,0.3467],[4.2,0.35],[4.6,0.3517],[5.1,0.3525],[5.5,0.3492],[6,0.3483],[6.4,0.3467],[6.9,0.3442],[7.2,0.3459],[7.5,0.355],[7.9,0.3574],[8.2,0.3525],[8.7,0.3475],[9.1,0.3459],[9.6,0.3434],[10,0.3426],[10.6,0.3426],[11.4,0.3434],[12.1,0.3417],[12.9,0.3417],[13.6,0.3417],[14.4,0.3426],[14.8,0.3459],[15.4,0.3467],[16,0.3475],[16.5,0.3492],[16.9,0.3459],[17.5,0.3442],[18,0.3426],[18.4,0.3426],[18.7,0.3508],[19,0.3591],[19.3,0.3558],[19.6,0.3525],[19.9,0.3624],[20.1,0.3508],[20.5,0.3459],[20.9,0.3475],[21.4,0.3541],[21.8,0.3492],[22.4,0.3459],[23,0.3434],[23.6,0.3417],[24.2,0.3409],[25,0.3401],[25.7,0.3393],[26.2,0.3401],[26.6,0.3426],[27.2,0.3442],[28,0.3442],[28.6,0.345],[29,0.3434],[29.6,0.3442],[30.2,0.3475],[30.8,0.3483],[31.3,0.3492],[31.6,0.3541],[32,0.3558],[32.5,0.3541],[32.9,0.355],[33.4,0.3492],[33.8,0.3492],[34.4,0.3467],[35,0.3442],[35.6,0.3434],[36,0.3426]];

// ---------- US-NR1 ----------
const nr1Doy = [123, 141, 123];
const nr1Dots = [[0.05,-0.76],[0.2,-0.48],[0.35,0.95],[0.5,0.4],[0.65,0.73],[0.8,0.18],[0.95,0.62],[1.1,0.84],[1.25,0.35],[1.4,0.51],[1.55,-0.2],[1.7,0.18],[1.85,0.62],[2,-0.04],[2.15,0.4],[2.3,-0.26],[2.45,0.13],[2.6,0.4],[2.75,-0.37],[2.9,0.07],[3.05,-0.26],[3.2,-0.04],[3.35,-0.48],[3.5,0.18],[3.65,-0.26],[3.8,0.4],[3.95,1.61],[4.1,0.18],[4.25,0.79],[4.4,-0.48],[4.55,-0.26],[4.7,-0.7],[4.85,-0.04],[5,-0.48],[5.15,0.4],[5.3,0.18],[5.4,1.34],[5.6,0.62],[5.7,0.95],[5.9,1.5],[6.2,0.73],[6.3,2],[6.5,1.06],[6.6,0.73],[6.9,-0.31],[7.1,0.95],[7.4,0.4],[7.5,0.18],[7.7,-0.04],[7.95,-0.15],[8.1,0.95],[8.3,1.06],[8.4,0.18],[8.7,-0.04],[9,-0.04],[9.2,1.28],[9.3,1.5],[9.45,0.95],[9.6,0.51],[9.75,1.39],[9.9,-0.48],[10.05,0.73],[10.2,1.17],[10.35,-0.37],[10.5,0.95],[10.65,0.51],[10.8,1.83],[10.95,-0.26],[11.1,0.95],[11.2,1.06],[11.4,0.07],[11.5,1.72],[11.7,1.28],[11.85,1.61],[12,1.39],[12.1,3.26],[12.3,-0.37],[12.4,-1.03],[12.6,0.95],[12.7,1.94],[12.9,0.84],[13,0.18],[13.2,0.62],[13.3,0.84],[13.5,0.29],[13.6,0.95],[13.8,1.61],[13.9,1.72],[14.1,1.17],[14.2,0.4],[14.4,-0.04],[14.5,-0.26],[14.7,0.51],[14.8,-0.48],[15,0.84],[15.1,0.18],[15.3,-0.15],[15.4,0.62],[15.6,0.07],[15.7,1.39],[15.9,0.84],[16,-0.7],[16.2,-0.26],[16.3,-0.59],[16.5,1.61],[16.6,-0.7],[16.8,0.95],[16.9,0.29],[17.2,2.27],[17.7,2.16],[17.35,1.06],[17.8,0.51],[17.95,0.95],[18.1,0.18],[18.25,-0.26],[18.4,0.4],[18.55,-0.04],[18.7,0.62],[18.85,1.06],[19,0.29],[19.15,-0.04],[19.3,0.18],[19.45,0.62],[19.6,-0.59],[19.75,0.4],[19.9,-0.04],[20.05,0.84],[20.2,-0.48],[20.35,0.18],[20.5,0.62],[20.6,1.06],[20.8,0.95],[20.9,-0.92],[21.1,0.4],[21.2,0.18],[21.35,0.51],[21.5,0.62],[21.7,0.95],[21.8,0.18],[22,-0.04],[22.1,0.4],[22.3,0.84],[22.4,0.95],[22.6,-0.48],[22.7,0.18],[22.85,0.84],[23,0.4],[23.2,0.84],[23.3,0.62],[23.5,0.4],[23.6,1.83],[23.8,0.84],[23.9,0.18],[24.1,0.62],[24.2,1.06],[24.4,0.84],[24.5,0.4],[24.7,0.18],[24.8,1.28],[25,0.84],[25.1,0.51],[25.3,0.18],[25.4,0.84],[25.6,-0.04],[25.7,0.4],[25.9,0.95],[26,1.17],[26.2,0.18],[26.3,-0.15],[26.45,0.4],[26.6,0.84],[26.75,-0.04],[26.9,-0.26],[27.05,0.18],[27.2,0.62],[27.35,-0.48],[27.5,-0.15],[27.65,-0.59],[27.8,0.18],[27.95,0.95],[28.1,-0.37],[28.25,-0.7],[28.4,-0.15],[28.5,0.18],[28.7,0.84],[28.8,1.5],[29,1.61],[29.1,1.17],[29.3,1.5],[29.4,1.39],[29.6,1.83],[29.7,0.84],[29.9,0.51],[30,1.06],[30.2,0.4],[30.3,0.84],[30.5,0.4],[30.6,-0.26],[30.8,0.18],[30.9,1.28],[31.1,0.62],[31.4,0.51],[31.5,0.18],[31.7,0.62],[32,0.29],[32.1,0.02],[32.3,0.62],[32.6,0.62],[32.7,0.68],[32.9,0.18],[33.2,-0.37],[33.3,-0.48],[33.5,-0.26],[33.6,0.18],[33.8,0.4],[33.9,-0.04],[34.1,0.62],[34.2,0.4],[34.4,0.18],[34.5,0.84],[34.7,0.51],[34.8,0.18],[35,-0.04],[35.1,1.06],[35.3,0.84],[35.4,0.4],[35.6,0.73],[35.7,0.84],[35.9,0.02],[36,0.62]];
const nr1Kb = [[0,0.29],[0.35,0.35],[0.8,0.4],[1.25,0.46],[1.7,0.35],[2.15,0.18],[2.6,0.07],[3,0.09],[3.5,0.02],[3.9,0.07],[4.4,-0.04],[4.7,-0.2],[5,0.18],[5.3,0.4],[5.6,0.62],[5.9,0.95],[6.2,0.84],[6.5,0.62],[6.8,0.84],[7.1,0.51],[7.5,0.29],[7.95,0.35],[8.4,0.46],[8.9,0.62],[9.3,0.68],[9.9,0.68],[10.5,0.68],[11.1,0.79],[11.7,0.95],[12.1,0.95],[12.7,0.84],[13.3,0.79],[13.9,0.62],[14.5,0.4],[15,0.29],[15.6,0.29],[16,0.18],[16.5,0.07],[16.8,0.24],[17.1,0.62],[17.4,0.79],[17.7,0.73],[17.95,0.51],[18.25,0.35],[18.7,0.35],[19.1,0.35],[19.6,0.29],[20,0.24],[20.6,0.24],[21.2,0.24],[21.8,0.29],[22.4,0.4],[23,0.57],[23.5,0.68],[23.9,0.73],[24.5,0.68],[25.1,0.57],[25.7,0.46],[26.3,0.35],[26.9,0.18],[27.35,-0.04],[27.8,-0.15],[28.1,0.24],[28.5,0.62],[29,0.9],[29.3,0.84],[29.6,0.95],[29.9,0.73],[30.3,0.51],[30.8,0.4],[31.4,0.35],[32,0.4],[32.6,0.29],[33,0.13],[33.3,0.02],[33.8,0.07],[34.2,0.18],[34.7,0.29],[35.1,0.4],[35.6,0.46],[36,0.57]];
const nr1Gcc = [[0,0.3484],[0.65,0.3509],[1.55,0.3512],[2.45,0.3512],[3,0.3506],[3.6,0.3542],[3.9,0.3575],[4.4,0.3691],[4.8,0.3774],[5.4,0.3831],[6,0.3856],[6.6,0.3869],[7.1,0.3864],[7.5,0.384],[8.1,0.3774],[8.7,0.3707],[9.3,0.3625],[9.9,0.3559],[10.5,0.3509],[11.1,0.3484],[11.7,0.3479],[12.3,0.3501],[12.9,0.3526],[13.5,0.3542],[14.1,0.355],[14.7,0.3575],[15.3,0.36],[15.9,0.3633],[16.5,0.3691],[17.1,0.3774],[17.7,0.384],[18.25,0.3881],[18.85,0.3889],[19.3,0.3873],[19.75,0.3823],[20.3,0.374],[20.9,0.3658],[21.5,0.3575],[22.1,0.3526],[22.7,0.3509],[23.6,0.3506],[24.5,0.3506],[25.4,0.3509],[26.3,0.3509],[26.9,0.3517],[27.35,0.355],[27.8,0.3625],[28.2,0.3724],[28.7,0.3807],[29.1,0.384],[29.6,0.3856],[30,0.3881],[30.6,0.3889],[31.1,0.3873],[31.7,0.3823],[32.3,0.374],[32.9,0.3658],[33.5,0.3592],[34.1,0.3559],[34.7,0.3542],[35.3,0.3539],[35.75,0.3526],[36,0.3476]];

// ---------- US-Me6 ----------
const me6Doy = [89, 68, 86];
const me6Dots = [[0,0.79],[0.9,0.3],[1.05,0],[1.2,-0.39],[1.35,0],[1.2,5.72],[1.35,4.64],[1.5,3.16],[1.65,2.76],[1.8,2.17],[1.8,3.55],[1.95,5.53],[2.1,6.22],[2.4,1.97],[2.55,9.08],[2.7,8.29],[2.85,6.32],[3,5.53],[3.1,5.72],[3.3,4.34],[3.4,5.13],[3.6,4.54],[3.75,10.16],[3.9,10.46],[4,6.71],[4.2,6.91],[4.3,10.66],[4.5,10.76],[4.6,10.07],[4.8,7.3],[5.1,13.42],[5.4,13.03],[5.25,9.28],[5.45,7.9],[5.55,6.71],[5.7,7.7],[5.85,7.11],[6,10.86],[6.1,8.29],[6.3,10.46],[6.4,7.5],[6.6,6.12],[6.7,8.68],[6.9,9.47],[7,7.7],[7.2,9.67],[7.3,4.34],[7.5,7.9],[7.6,5.72],[7.8,5.53],[7.9,9.47],[8.1,7.7],[8.2,5.92],[8.5,8.68],[8.7,8.39],[8.8,5.13],[9,4.34],[9.1,4.93],[9.3,7.11],[9.4,6.32],[10.2,1.38],[11.1,5.53],[11.2,1.97],[13.8,0],[13.9,0.39],[14.05,0],[14.2,1.97],[14.4,5.03],[14.5,8.29],[14.7,8.68],[14.8,7.9],[15,7.11],[15.1,7.9],[15.3,9.87],[15.4,6.71],[15.6,9.08],[15.7,8.09],[15.9,8.68],[16,9.47],[16.2,7.5],[16.3,11.25],[16.5,9.67],[16.6,10.26],[16.8,8.68],[16.9,12.43],[17.1,13.03],[17.2,11.84],[17.4,10.66],[17.5,9.47],[17.65,8.29],[17.8,11.25],[17.95,12.04],[18.1,10.26],[18.25,13.22],[18.4,9.47],[18.55,13.03],[18.7,11.05],[18.85,8.29],[19,7.5],[19.15,10.66],[19.3,7.7],[19.45,12.43],[19.6,5.92],[19.75,5.33],[19.9,3.75],[20.05,3.36],[20.2,5.13],[20.35,4.15],[20.5,6.32],[20.65,5.13],[20.8,3.36],[20.95,4.74],[21.1,5.92],[21.25,8.68],[21.4,11.64],[21.5,11.45],[21.7,6.91],[21.85,3.95],[22,3.36],[22.1,7.7],[22.3,4.34],[22.4,2.37],[22.6,3.16],[22.7,2.17],[22.9,4.34],[23,3.95],[23.2,3.16],[23.3,3.55],[23.5,1.97],[23.6,2.76],[23.8,1.78],[23.9,1.18],[24.1,0.79],[24.2,2.96],[24.5,1.78],[24.7,4.74],[24.8,7.3],[25,13.82],[25.1,4.34],[25.3,3.95],[25.4,6.51],[25.6,7.5],[25.7,1.97],[25.9,2.37],[26,1.58],[26.2,1.18],[26.25,0.39],[26.3,0.79],[26.5,4.15],[26.6,6.12],[26.8,7.7],[26.9,9.08],[27.1,10.07],[27.2,9.47],[27.4,8.49],[27.5,10.46],[27.7,9.87],[27.8,8.68],[28,10.86],[28.1,10.26],[28.3,9.08],[28.4,10.07],[28.6,8.09],[28.7,8.29],[28.9,10.26],[29,7.7],[29.2,12.83],[29.3,11.25],[29.5,10.66],[29.6,11.05],[29.8,7.11],[29.9,9.47],[30.1,11.45],[30.2,7.5],[30.4,9.08],[30.5,9.47],[30.7,7.11],[30.8,7.9],[31,8.88],[31.1,7.5],[31.3,6.71],[31.4,10.07],[31.6,8.29],[31.7,5.92],[31.9,5.13],[32,8.09],[32.2,7.5],[32.3,9.08],[32.5,5.92],[32.6,4.34],[32.8,7.11],[32.9,4.74],[33.1,5.92],[33.2,7.5],[33.4,3.95],[33.5,5.13],[33.7,6.71],[33.8,10.26],[34,8.29],[34.1,7.5],[34.3,8.68],[34.4,6.32],[34.5,4.74],[34.6,3.36],[34.7,2.96],[34.9,3.16],[35,2.57],[35.2,2.37],[35.3,2.76],[35.5,2.37],[35.6,3.55],[36,0.49]];
const me6Kb = [[0,0.79],[0.45,1.09],[0.9,1.38],[1.2,1.97],[1.5,2.76],[1.8,3.55],[2.1,4.34],[2.5,5.33],[3,6.71],[3.4,7.9],[3.9,8.88],[4.3,9.57],[4.6,9.77],[4.9,9.47],[5.4,9.28],[5.8,8.88],[6.3,8.29],[6.7,7.7],[7.2,7.3],[7.6,7.11],[8.1,7.11],[8.5,6.91],[8.8,6.32],[9.3,5.53],[9.7,4.74],[10.2,4.15],[10.6,3.36],[11.1,2.96],[11.4,2.37],[11.7,1.58],[12,0.59],[12.3,-0.39],[12.7,-1.18],[13.1,-1.38],[13.5,-0.79],[13.8,0.2],[14.1,1.78],[14.4,4.34],[14.7,6.71],[15.1,7.9],[15.6,8.68],[16,9.08],[16.5,9.47],[16.9,10.16],[17.4,10.66],[17.8,10.95],[18.25,10.66],[18.7,10.07],[19,9.28],[19.3,7.9],[19.6,6.51],[20.05,5.33],[20.3,5.13],[20.6,5.92],[21,6.71],[21.2,6.12],[21.5,4.74],[21.8,3.55],[22.1,2.76],[22.4,2.37],[22.9,2.47],[23.3,3.16],[23.8,4.34],[24.2,5.33],[24.5,5.72],[24.8,5.53],[25.1,5.13],[25.4,5.53],[25.7,4.34],[26,3.55],[26.3,3.55],[26.6,4.34],[26.9,5.92],[27.2,7.9],[27.7,8.88],[28.1,9.08],[28.6,9.38],[29,9.87],[29.5,10.16],[29.9,9.87],[30.4,9.47],[30.8,9.38],[31.3,8.68],[31.7,7.7],[32.2,6.91],[32.6,6.51],[33.1,6.12],[33.5,5.92],[34,5.13],[34.4,4.15],[34.9,3.16],[35.3,1.97],[35.6,1.18],[36,0.49]];
const me6Gcc = [[0,0.366],[0.6,0.3668],[1.05,0.3684],[1.2,0.3734],[1.65,0.375],[2.4,0.3758],[2.85,0.3775],[3.1,0.3898],[3.6,0.3923],[4.2,0.3948],[4.6,0.3956],[5.1,0.394],[5.5,0.3923],[6,0.3915],[6.4,0.3956],[6.9,0.3956],[7.3,0.3923],[7.8,0.3898],[8.2,0.38],[8.7,0.3816],[9.3,0.3824],[9.9,0.3808],[10.3,0.375],[10.8,0.3717],[11.4,0.3676],[11.8,0.3635],[12.3,0.3569],[12.6,0.3618],[13,0.3626],[13.5,0.3618],[13.9,0.361],[14.4,0.3602],[14.7,0.3725],[15.1,0.3758],[15.7,0.3783],[16.3,0.3808],[16.8,0.3849],[17.2,0.3865],[17.65,0.3882],[18.1,0.3915],[18.55,0.3948],[19,0.3898],[19.3,0.3849],[19.6,0.3767],[20.05,0.38],[20.5,0.3849],[20.9,0.3816],[21.4,0.38],[21.8,0.375],[22.4,0.3684],[22.9,0.3635],[23.3,0.3626],[23.8,0.3626],[24.2,0.3651],[24.7,0.3668],[25.1,0.3692],[25.4,0.3651],[25.9,0.3635],[26.3,0.3651],[26.8,0.3676],[27.2,0.375],[27.7,0.3783],[28.1,0.3816],[28.6,0.3865],[29,0.3832],[29.5,0.384],[29.9,0.3882],[30.4,0.3923],[30.8,0.3931],[31.1,0.3915],[31.6,0.38],[32,0.375],[32.5,0.3742],[32.9,0.375],[33.4,0.3734],[33.8,0.3717],[34.3,0.3717],[34.7,0.366],[35.2,0.3643],[35.6,0.3635],[36,0.3626]];

// Panel table (row/col place each chart in the 2 x 4 grid)
const panels = [
  { site: "US-MMS", pft: "DBF", labels: ticks2012, dots: mmsDots, kb: mmsKb, gcc: mmsGcc, doy: mmsDoy, kbRange: [-2, 8, 2], gccRange: [0.3, 0.45], row: 0, col: 0, titleX: 102, numY: 17 },
  { site: "US-MOz", pft: "DBF", labels: ticks2012, dots: mozDots, kb: mozKb, gcc: mozGcc, doy: mozDoy, kbRange: [-2, 8, 2], gccRange: [0.3, 0.45], row: 0, col: 1, titleX: 102, numY: 17 },
  { site: "US-Ne1", pft: "CRO", labels: ticks2016, dots: ne1Dots, kb: ne1Kb, gcc: ne1Gcc, doy: ne1Doy, kbRange: [-2, 12, 2], gccRange: [0.31, 0.461], row: 1, col: 0, titleX: 128, numY: 19 },
  { site: "US-Ro4", pft: "GRA", labels: ticks2016, dots: ro4Dots, kb: ro4Kb, gcc: ro4Gcc, doy: ro4Doy, kbRange: [-2, 8, 2], gccRange: [0.31, 0.461], row: 1, col: 1, titleX: 130, numY: 19 },
  { site: "US-Wkg", pft: "GRA", labels: ticks2015, dots: wkgDots, kb: wkgKb, gcc: wkgGcc, doy: wkgDoy, kbRange: [-2, 16, 5], gccRange: [0.3, 0.45], row: 2, col: 0, titleX: 128, numY: 35 },
  { site: "US-Ses", pft: "OSH", labels: ticks2016, dots: sesDots, kb: sesKb, gcc: sesGcc, doy: sesDoy, kbRange: [3, 17, 2], gccRange: [0.32, 0.47], row: 2, col: 1, titleX: 130, numY: 16 },
  { site: "US-NR1", pft: "ENF", labels: ticks2016, dots: nr1Dots, kb: nr1Kb, gcc: nr1Gcc, doy: nr1Doy, kbRange: [-2, 8, 2], gccRange: [0.28, 0.43], row: 3, col: 0, titleX: 115, numY: 17 },
  { site: "US-Me6", pft: "ENF", labels: ticks2016, dots: me6Dots, kb: me6Kb, gcc: me6Gcc, doy: me6Doy, kbRange: [-2, 16, 5], gccRange: [0.3, 0.45], row: 3, col: 1, titleX: 108, numY: 17 },
];

// Utils
const doyToMonth = (k, d) => k * 12 + ((d - 1) / 365.25) * 12;
const toPts = (arr) => arr.map(([x, y]) => ({ x, y }));
const stepTicks = (min, max, step) => {
  const out = [];
  for (let v = Math.ceil(min / step - 1e-9) * step; v <= max + 1e-9; v += step) out.push(+v.toFixed(3));
  return out;
};

// Decorations: inward ticks, site label, DOY numbers, axis titles
const panelDeco = {
  id: "panelDeco",
  afterDraw(chart, args, o) {
    const { ctx, chartArea: a, scales } = chart;
    ctx.save();
    ctx.lineWidth = 3;
    ctx.strokeStyle = "#111";
    scales.y.ticks.forEach((t) => {
      const py = scales.y.getPixelForValue(t.value);
      ctx.beginPath(); ctx.moveTo(a.left, py); ctx.lineTo(a.left + 7, py); ctx.stroke();
    });
    ctx.strokeStyle = "#333";
    scales.x.ticks.forEach((t) => {
      if (t.value <= 0 || t.value >= 36) return;
      const px = scales.x.getPixelForValue(t.value);
      ctx.beginPath(); ctx.moveTo(px, a.bottom); ctx.lineTo(px, a.bottom - 8); ctx.stroke();
    });
    ctx.strokeStyle = GREEN;
    scales.y2.ticks.forEach((t) => {
      const py = scales.y2.getPixelForValue(t.value);
      ctx.beginPath(); ctx.moveTo(a.right, py); ctx.lineTo(a.right - 7, py); ctx.stroke();
    });

    // site name
    ctx.fillStyle = "#000";
    ctx.font = `bold 19px ${FONT}`;
    ctx.textAlign = "center";
    ctx.textBaseline = "middle";
    ctx.fillText(o.site, a.left + o.titleX, a.top + 21);
    ctx.fillText("(" + o.pft + ")", a.left + o.titleX, a.top + 44);

    // DOY numbers next to the dash-dot lines
    ctx.fillStyle = GREEN;
    ctx.font = `bold 18px ${FONT}`;
    ctx.textAlign = "right";
    o.doy.forEach((d, k) => {
      const px = scales.x.getPixelForValue(doyToMonth(k, d));
      ctx.fillText(String(d), px - 3, a.top + o.numY);
    });

    // axis titles
    const midY = (a.top + a.bottom) / 2 - 4;
    if (o.col === 0) {
      ctx.save();
      ctx.translate(a.left - 44, midY);
      ctx.rotate(-Math.PI / 2);
      ctx.fillStyle = "#000";
      ctx.textAlign = "left";
      ctx.font = `italic bold 23px ${FONT}`;
      const w1 = ctx.measureText("kB").width;
      ctx.font = `bold 15px ${FONT}`;
      const w2 = ctx.measureText("-1").width;
      const x0 = -(w1 + w2) / 2;
      ctx.font = `italic bold 23px ${FONT}`;
      ctx.fillText("kB", x0, 2);
      ctx.font = `bold 15px ${FONT}`;
      ctx.fillText("-1", x0 + w1 + 1, -8);
      ctx.restore();
    } else {
      ctx.save();
      ctx.translate(a.right + 72, midY);
      ctx.rotate(-Math.PI / 2);
      ctx.fillStyle = GREEN;
      ctx.textAlign = "left";
      ctx.font = `bold 23px ${FONT}`;
      const w1 = ctx.measureText("G").width;
      ctx.font = `bold 16px ${FONT}`;
      const w2 = ctx.measureText("cc").width;
      const x0 = -(w1 + w2) / 2;
      ctx.font = `bold 23px ${FONT}`;
      ctx.fillText("G", x0, 0);
      ctx.font = `bold 16px ${FONT}`;
      ctx.fillText("cc", x0 + w1 + 1, 8);
      ctx.restore();
    }
    ctx.restore();
  },
};

const rowTops = [0, 377, 755, 1131];

panels.forEach((p) => {
  const wrap = document.createElement("div");
  wrap.className = "panel";
  wrap.style.left = (p.col ? 614 : 0) + "px";
  wrap.style.top = rowTops[p.row] + "px";
  wrap.style.width = (p.col ? 654 : 634) + "px";
  wrap.style.height = "380px";
  const canvas = document.createElement("canvas");
  wrap.appendChild(canvas);
  document.body.appendChild(wrap);

  const [kMin, kMax, kStep] = p.kbRange;
  const [gMin, gMax] = p.gccRange;
  const tickFont = { family: FONT, size: 20, weight: "bold" };

  const vlines = p.doy.map((d, k) => ({
    data: [{ x: doyToMonth(k, d), y: kMin }, { x: doyToMonth(k, d), y: kMax }],
    showLine: true,
    borderColor: VLINE,
    borderWidth: 2,
    borderDash: [9, 3, 2, 3],
    pointRadius: 0,
    order: 1,
    yAxisID: "y",
  }));

  new Chart(canvas, {
    type: "scatter",
    data: {
      datasets: [
        {
          data: toPts(p.dots),
          pointRadius: 6.3,
          backgroundColor: "rgba(200,200,200,0.75)",
          borderColor: "rgba(45,45,45,0.85)",
          borderWidth: 1,
          clip: false,
          order: 4,
          yAxisID: "y",
        },
        {
          data: toPts(p.kb),
          showLine: true,
          borderColor: "#000",
          borderWidth: 4,
          pointRadius: 0,
          tension: 0.2,
          order: 3,
          yAxisID: "y",
        },
        {
          data: toPts(p.gcc),
          showLine: true,
          borderColor: GREEN,
          borderWidth: 4.5,
          pointRadius: 0,
          tension: 0.1,
          order: 2,
          yAxisID: "y2",
        },
        ...vlines,
      ],
    },
    options: {
      responsive: true,
      maintainAspectRatio: false,
      animation: false,
      events: [],
      layout: { padding: { top: 15, left: 0, right: 0, bottom: 0 } },
      plugins: {
        legend: { display: false },
        tooltip: { enabled: false },
        panelDeco: { site: p.site, pft: p.pft, doy: p.doy, titleX: p.titleX, numY: p.numY, col: p.col },
      },
      scales: {
        x: {
          type: "linear",
          min: 0,
          max: 36,
          grid: { display: false, drawTicks: false },
          border: { display: true, color: "#333", width: 3.5 },
          afterBuildTicks: (s) => { s.ticks = monthTicks.map((value) => ({ value })); },
          afterFit: (s) => { s.height = 62; },
          ticks: {
            autoSkip: false,
            minRotation: 27,
            maxRotation: 27,
            padding: 4,
            color: "#222",
            font: tickFont,
            callback: (v) => p.labels[Math.round(v / 6)],
          },
        },
        y: {
          position: "left",
          min: kMin,
          max: kMax,
          grid: { display: false, drawTicks: false },
          border: { display: true, color: "#000", width: 3.5 },
          afterBuildTicks: (s) => { s.ticks = stepTicks(kMin, kMax, kStep).map((value) => ({ value })); },
          afterFit: (s) => { s.width = p.col ? 64 : 75; },
          ticks: { padding: 9, color: "#000", font: tickFont, callback: (v) => String(v) },
        },
        y2: {
          position: "right",
          min: gMin,
          max: gMax,
          grid: { display: false, drawTicks: false },
          border: { display: true, color: GREEN, width: 4 },
          afterBuildTicks: (s) => { s.ticks = stepTicks(gMin, gMax, 0.05).map((value) => ({ value })); },
          afterFit: (s) => { s.width = p.col ? 102 : 72; },
          ticks: { padding: 8, color: GREEN, font: tickFont, callback: (v) => String(+v.toFixed(2)) },
        },
      },
    },
    plugins: [panelDeco],
  });
});
</script>
</body>
</html>
